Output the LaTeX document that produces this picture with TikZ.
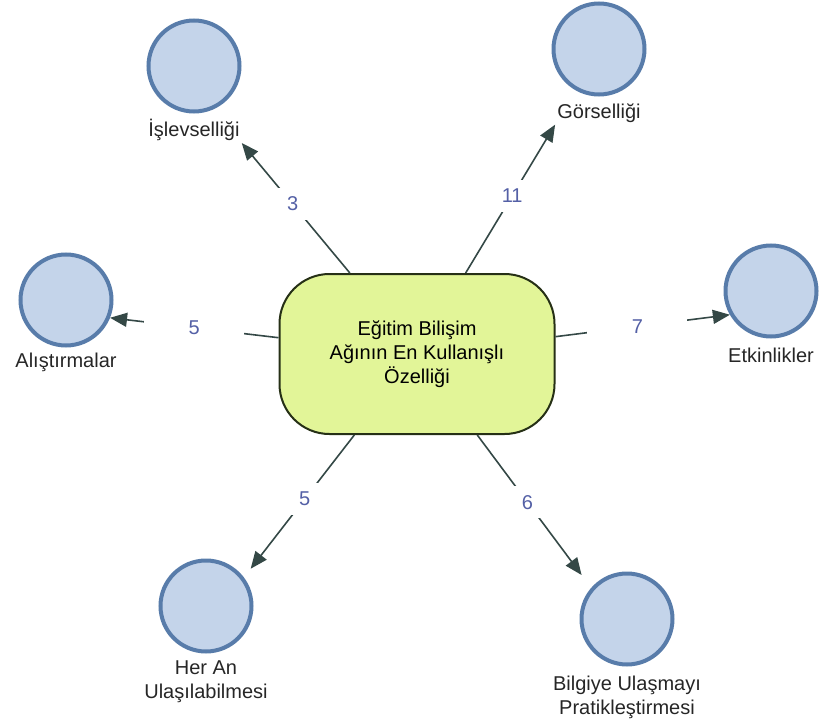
\documentclass[tikz,border=0pt]{standalone}
\usepackage{fontspec}
\setmainfont{Liberation Sans}
\usetikzlibrary{arrows.meta}

\definecolor{corefill}{RGB}{226,245,152}
\definecolor{coreedge}{RGB}{38,48,22}
\definecolor{circfill}{RGB}{196,212,234}
\definecolor{circedge}{RGB}{88,124,170}
\definecolor{linkcol}{RGB}{52,72,70}
\definecolor{countcol}{RGB}{84,96,166}

\begin{document}
\begin{tikzpicture}[x=1pt, y=-1pt,
		every node/.style={font=\fontsize{20}{24}\selectfont},
		topic/.style={circle, draw=circedge, fill=circfill, line width=4pt, minimum size=91pt, inner sep=0pt},
		caption/.style={align=center, inner sep=2pt, text=black!85},
		link/.style={draw=linkcol, line width=1.6pt, -{Triangle[length=17pt, width=14pt]}},
		count/.style={fill=white, text=countcol, minimum width=100pt, minimum height=32pt, inner sep=0pt}]
			\useasboundingbox (0,0) rectangle (819,722);
			% Nodes
			\node[draw=coreedge, fill=corefill, line width=2pt, rounded corners=50pt, minimum width=275pt, minimum height=160pt, align=center] (core) at (417,354) {Eğitim Bilişim\\Ağının En Kullanışlı\\Özelliği};
			\foreach \i/\x/\y/\ly/\txt in {1/194/66/130/{İşlevselliği}, 2/599/49/113/{Görselliği}, 3/66/300/362/{Alıştırmalar}, 4/771/291/355/{Etkinlikler}, 5/206/606/682/{Her An\\Ulaşılabilmesi}, 6/627/619/697/{Bilgiye Ulaşmayı\\Pratikleştirmesi}} {
				\node[topic] (circ\i) at (\x,\y) {};
				\node[caption] (lbl\i) at (\x,\ly) {\txt};
			}
			% Links
			\draw[link] (core) -- (lbl1.south east) node[count, pos=0.53] {3};
			\draw[link] (core) -- (lbl2.south west) node[count, pos=0.52] {11};
			\draw[link] (core) -- (circ3.-22) node[count, pos=0.5] {5};
			\draw[link] (core) -- (circ4.210) node[count, pos=0.47] {7};
			\draw[link, shorten >=11pt] (core) -- (circ5.37) node[count, pos=0.45] {5};
			\draw[link, shorten >=16pt] (core) -- (circ6.139) node[count, pos=0.44] {6};
		\end{tikzpicture}
\end{document}
